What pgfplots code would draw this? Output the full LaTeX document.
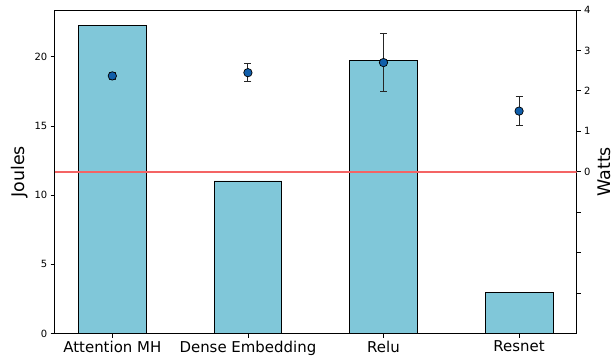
\documentclass[border=0pt]{standalone}
\usepackage{pgfplots}
\pgfplotsset{compat=1.18}
\usepackage{fontspec}
\setmainfont{DejaVu Sans}
\definecolor{barc}{RGB}{128,199,217}
\definecolor{ptc}{RGB}{16,94,170}
\definecolor{linered}{RGB}{244,100,100}
\begin{document}
\begin{tikzpicture}
\pgfplotsset{every axis/.append style={
  width=522bp, height=323.5bp, scale only axis,
  /pgf/number format/assume math mode=true,
  tick align=outside, major tick length=4bp,
  every tick/.style={black, line width=0.8bp},
  axis line style={line width=0.8bp},
  yticklabel style={font=\fontsize{10}{12}\selectfont},
  xmin=-0.425, xmax=3.425,
}}
\begin{axis}[
  ymin=0, ymax=23.39,
  xtick={0,1,2,3},
  xticklabels={Attention MH, Dense Embedding, Relu, Resnet},
  xticklabel style={font=\fontsize{15}{18}\selectfont},
  ytick={0,5,10,15,20},
  xtick pos=lower, ytick pos=left,
  ylabel={Joules},
  ylabel style={font=\fontsize{17.5}{20}\selectfont},
]
\addplot[ybar, bar width=0.5, fill=barc, draw=black, line width=0.8bp]
  coordinates {(0,22.28) (1,11.03) (2,19.72) (3,3.0)};
\end{axis}
\begin{axis}[
  ymin=-4, ymax=4,
  hide x axis, axis y line*=right,
  ytick={-3,-2,-1,0,1,2,3,4},
  yticklabels={,,,0,1,2,3,4},
  ylabel={Watts},
  ylabel style={font=\fontsize{17.5}{20}\selectfont},
]
\draw[draw=linered, line width=1.5bp] (axis cs:-0.425,0) -- (axis cs:3.425,0);
\addplot[only marks, mark=*, mark size=4.2bp,
  mark options={fill=ptc, draw=black, line width=0.7bp},
  error bars/.cd, y dir=both, y explicit,
  error bar style={black!85, line width=1bp},
  error mark options={rotate=90, black!85, mark size=3.5bp, line width=1bp}]
  coordinates {(0,2.37) +- (0,0.09) (1,2.45) +- (0,0.22) (2,2.70) +- (0,0.72) (3,1.50) +- (0,0.35)};
\end{axis}
\pgfresetboundingbox
\path (-54.7bp,-25.5bp) rectangle (558.3bp,333.5bp);
\end{tikzpicture}
\end{document}
